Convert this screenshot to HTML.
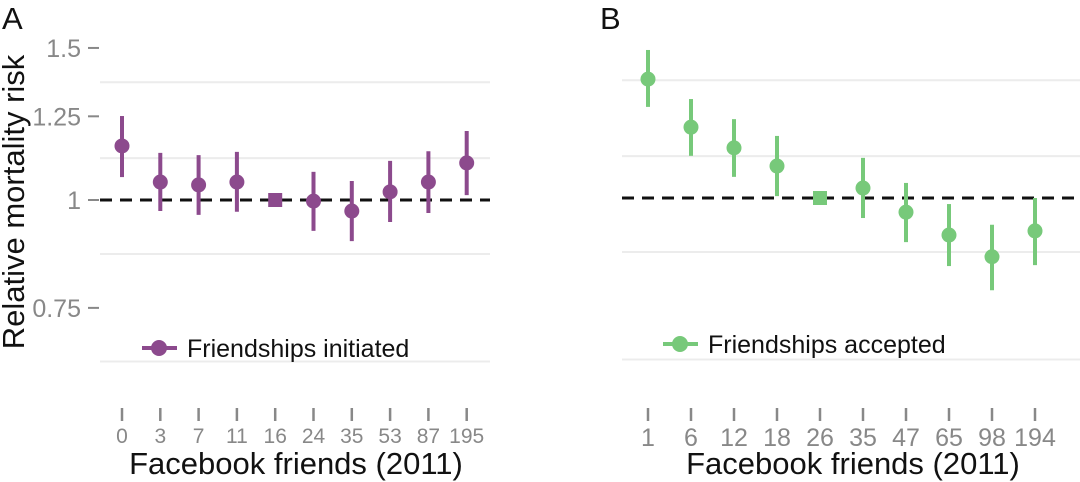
<!DOCTYPE html>
<html><head><meta charset="utf-8"><style>
html,body{margin:0;padding:0;background:#fff;}
svg{display:block;font-family:"Liberation Sans",sans-serif;}
</style></head><body>
<svg id="c" width="1080" height="482" viewBox="0 0 1080 482"></svg>
<script>
const catsA=["0","3","7","11","16","24","35","53","87","195"];
const estA=[1.155,1.049,1.041,1.049,1.0,0.997,0.971,1.022,1.049,1.104];
const loA=[1.063,0.971,0.961,0.969,1.0,0.921,0.896,0.943,0.966,1.013];
const hiA=[1.251,1.134,1.127,1.137,1.0,1.078,1.052,1.110,1.139,1.202];
const catsB=["1","6","12","18","26","35","47","65","98","194"];
const estB=[1.373,1.208,1.143,1.089,1.0,1.027,0.963,0.906,0.855,0.916];
const loB=[1.275,1.119,1.058,1.005,1.0,0.948,0.889,0.834,0.782,0.836];
const hiB=[1.484,1.302,1.234,1.180,1.0,1.113,1.041,0.984,0.931,1.0];
const refIdx=4;
const yTicks=[1.5,1.25,1,0.75];
const yTickLabels=["1.5","1.25","1","0.75"];
const yMinor=[1.369,1.118,0.866,0.65];
const NS="http://www.w3.org/2000/svg";
const svg=document.getElementById('c');
function mk(tag,attrs,parent){const e=document.createElementNS(NS,tag);for(const k in attrs)e.setAttribute(k,attrs[k]);(parent||svg).appendChild(e);return e;}
function panel(cfg){
  const g=mk('g',{});
  
  
  const y=v=>cfg.y1-375*Math.log(v);
  const x=i=>cfg.x0+i*cfg.dx;
  yMinor.forEach(v=>{const l=mk('line',{x1:cfg.gx0,x2:cfg.gx1,y1:y(v),y2:y(v),stroke:'#ececec','stroke-width':2},g);
    });
  if(cfg.showY){
    yTicks.forEach((v,i)=>{
      const t=mk('line',{x1:88,x2:99,y1:y(v),y2:y(v),stroke:'#888','stroke-width':2},g);
      
      const tx=mk('text',{x:81,y:y(v)+9,'text-anchor':'end','font-size':25,fill:'#888'},g);
      tx.textContent=yTickLabels[i];
      
    });
  }
  const d=mk('line',{x1:cfg.gx0,x2:cfg.gx1,y1:y(1),y2:y(1),stroke:'#111','stroke-width':3,'stroke-dasharray':'12 8'},g);
  
  cfg.cats.forEach((c,i)=>{
    const tk=mk('line',{x1:x(i),x2:x(i),y1:408,y2:421,stroke:'#888','stroke-width':2.5},g);
    
    const tl=mk('text',{x:x(i),y:cfg.xly,'text-anchor':'middle','font-size':cfg.xfs,fill:'#888'},g);
    tl.textContent=c;
    
    if(i===refIdx){
      const s=mk('rect',{x:x(i)-7,y:y(cfg.est[i])-7,width:14,height:14,fill:cfg.color},g);
      
    } else {
      const e=mk('line',{x1:x(i),x2:x(i),y1:y(cfg.lo[i]),y2:y(cfg.hi[i]),stroke:cfg.color,'stroke-width':4},g);
      
      const p=mk('circle',{cx:x(i),cy:y(cfg.est[i]),r:7.5,fill:cfg.color},g);
      
    }
  });
  const ll=mk('line',{x1:cfg.lx,x2:cfg.lx+35,y1:cfg.ly,y2:cfg.ly,stroke:cfg.color,'stroke-width':4},g);
  
  const lc=mk('circle',{cx:cfg.lx+17,cy:cfg.ly,r:8,fill:cfg.color},g);
  
  const lt=mk('text',{x:cfg.lx+45,y:cfg.ly+9,'font-size':25,fill:'#111'},g);
  lt.textContent=cfg.legend;
  
  const xt=mk('text',{x:cfg.xtx,y:474,'text-anchor':'middle','font-size':31,fill:'#111'},g);
  xt.textContent='Facebook friends (2011)';
  
  const pl=mk('text',{x:cfg.plx,y:29,'font-size':31,fill:'#111'},g);
  pl.textContent=cfg.label;
  
}
panel({name:'panel-a',cats:catsA,est:estA,lo:loA,hi:hiA,color:'#8c4a8d',x0:122,dx:38.3,y1:200,gx0:100,gx1:490,showY:true,xfs:21,xly:443,lx:142,ly:348,legend:'Friendships initiated',xtx:296,plx:2,label:'A'});
panel({name:'panel-b',cats:catsB,est:estB,lo:loB,hi:hiB,color:'#77c97a',x0:648,dx:43,y1:198,gx0:622,gx1:1080,showY:false,xfs:25,xly:446,lx:663,ly:344,legend:'Friendships accepted',xtx:853,plx:600,label:'B'});
const yt=mk('text',{x:0,y:0,'text-anchor':'middle','font-size':31,fill:'#111',transform:'translate(24,202) rotate(-90)'});
yt.textContent='Relative mortality risk';


</script>
</body></html>
